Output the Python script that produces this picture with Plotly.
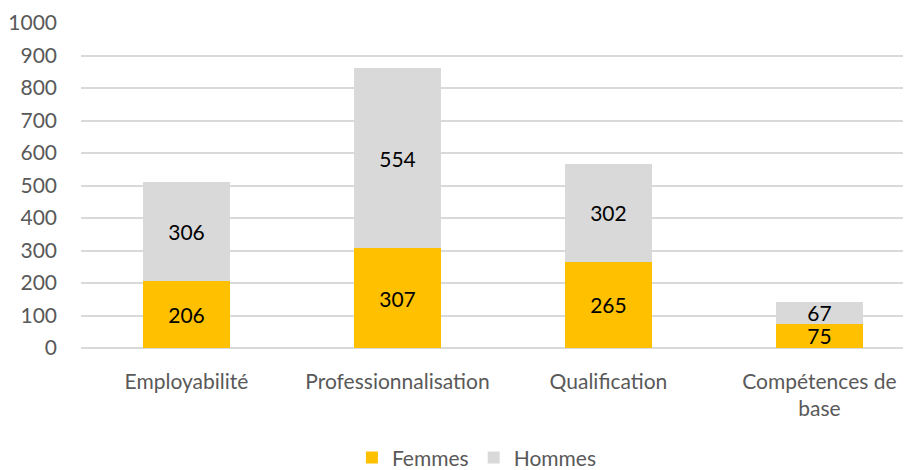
import plotly.graph_objects as go

categories = ["Employabilité", "Professionnalisation", "Qualification", "Compétences de<br>base"]
femmes = [206, 307, 265, 75]
hommes = [306, 554, 302, 67]
y_ticks = [0, 100, 200, 300, 400, 500, 600, 700, 800, 900, 1000]

FONT = "Lato, 'Open Sans', sans-serif"
FS = 21

fig = go.Figure()
for name, vals, col in [("Femmes", femmes, "#FFC000"), ("Hommes", hommes, "#D9D9D9")]:
    fig.add_trace(go.Bar(
        x=categories, y=vals, name=name,
        marker=dict(color=col, line=dict(width=0)),
        width=0.41,
        text=vals, textposition="inside", insidetextanchor="middle",
        textangle=0, constraintext="none",
        textfont=dict(color="#000000", size=FS, family=FONT),
    ))

fig.update_layout(
    barmode="stack",
    width=903, height=462,
    margin=dict(l=73, r=0, t=15, b=122, autoexpand=False),
    paper_bgcolor="white", plot_bgcolor="white",
    font=dict(family=FONT, size=FS, color="#595959"),
    legend=dict(orientation="h", x=0.477, xanchor="center", y=-0.338, yanchor="middle",
                font=dict(size=FS, color="#595959"), traceorder="normal",
                itemwidth=30, tracegroupgap=0),
    showlegend=True,
)
fig.update_xaxes(
    range=[-0.5, 3.434], showgrid=False, showline=False, zeroline=False,
    ticks="", ticklabelstandoff=19, automargin=False,
    tickfont=dict(size=FS, color="#595959"),
)
fig.update_yaxes(
    range=[0, 1000], tickvals=y_ticks, showgrid=True, gridcolor="#D9D9D9", gridwidth=1.5,
    zeroline=True, zerolinecolor="#D9D9D9", zerolinewidth=1.5,
    showline=False, ticks="", ticklabelstandoff=23, automargin=False,
    tickfont=dict(size=FS, color="#595959"),
)

fig.write_html("out.html")
